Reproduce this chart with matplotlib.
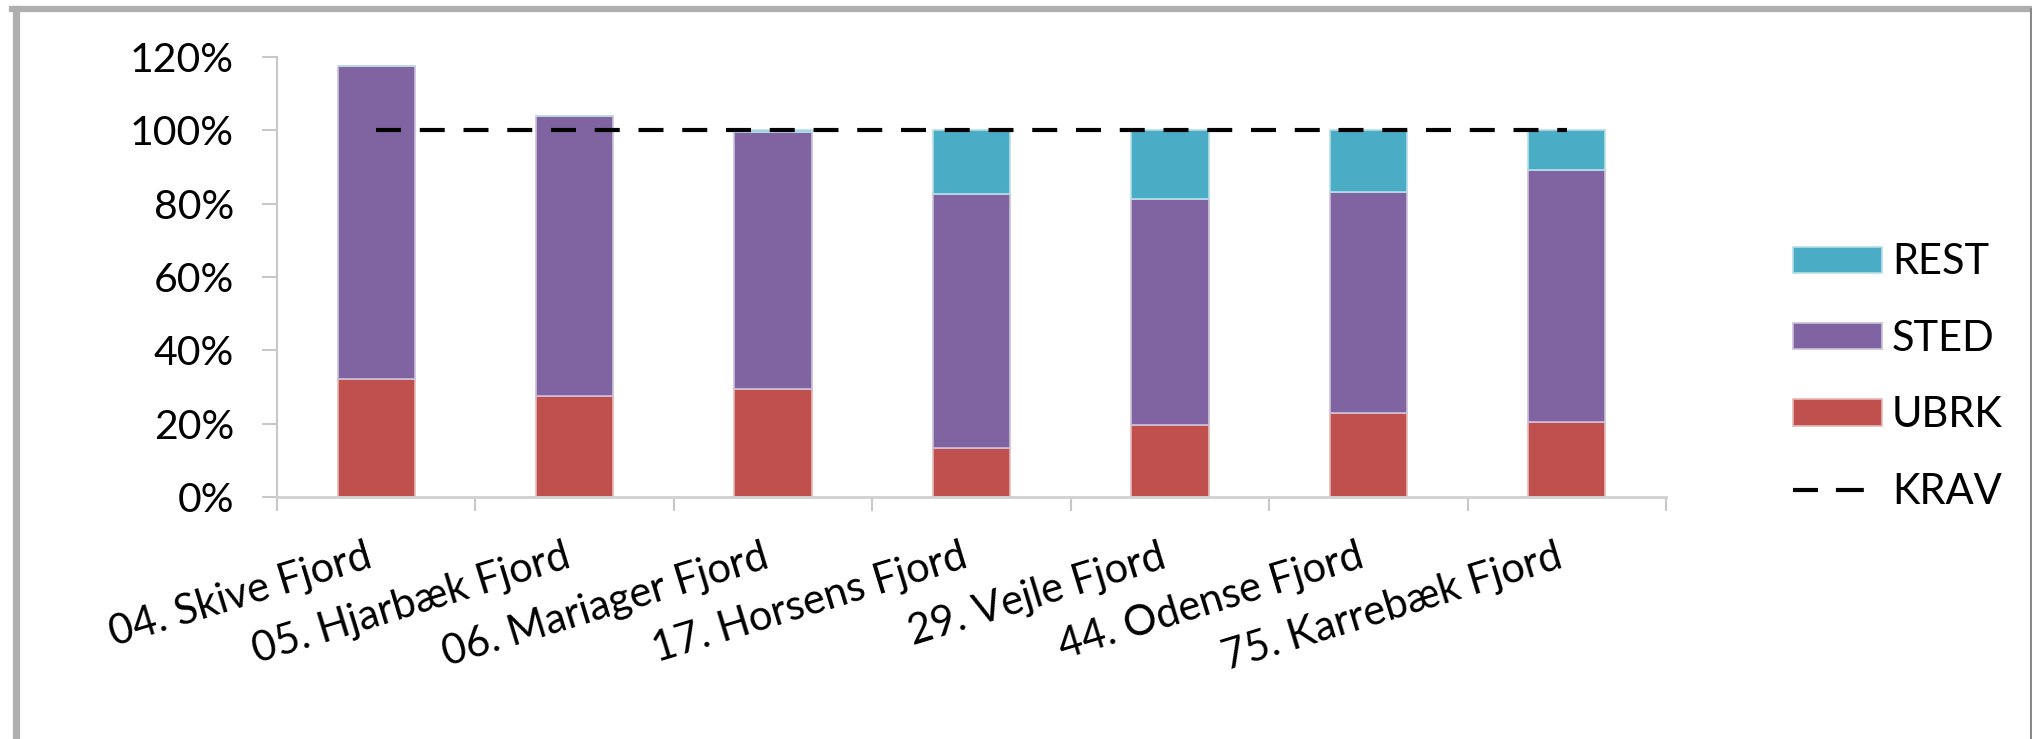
import matplotlib.pyplot as plt
from matplotlib.lines import Line2D
from matplotlib.ticker import PercentFormatter

fjorde = ["04. Skive Fjord", "05. Hjarbæk Fjord", "06. Mariager Fjord",
          "17. Horsens Fjord", "29. Vejle Fjord", "44. Odense Fjord",
          "75. Karrebæk Fjord"]
ubrk = [32.2, 27.5, 29.5, 13.4, 19.6, 22.9, 20.5]
sted = [85.3, 76.4, 70.0, 69.2, 61.7, 60.3, 68.7]
rest = [0.0, 0.0, 0.5, 17.4, 18.7, 16.8, 10.8]
krav = [100, 100, 100, 100, 100, 100, 100]

plt.rcParams['font.family'] = ['Lato', 'DejaVu Sans']

W, H = 2032, 739
fig = plt.figure(figsize=(W / 100, H / 100), dpi=100)
ax = fig.add_axes([277 / W, 1 - 497 / H, (1666 - 277) / W, (497 - 57) / H])

x = list(range(len(fjorde)))
bw = 0.39
b1 = ax.bar(x, ubrk, bw, color="#C0504D", edgecolor="#E6B9B8", linewidth=1.2, label="UBRK", zorder=2)
b2 = ax.bar(x, sted, bw, bottom=ubrk, color="#8064A2", edgecolor="#CCC1DA", linewidth=1.2, label="STED", zorder=2)
bottom2 = [u + s for u, s in zip(ubrk, sted)]
b3 = ax.bar(x, rest, bw, bottom=bottom2, color="#4BACC6", edgecolor="#B7DEE8", linewidth=1.2, label="REST", zorder=2)
ax.plot(x, krav, color="black", linewidth=3, dashes=(6, 4.5), label="KRAV", zorder=3)

ax.set_xlim(-0.5, len(fjorde) - 0.5)
ax.set_ylim(0, 120)
ax.set_yticks(range(0, 121, 20))
ax.yaxis.set_major_formatter(PercentFormatter(decimals=0))

ax.set_xticks([i - 0.5 for i in range(len(fjorde) + 1)])
ax.set_xticklabels([])
ax.set_xticks(x, minor=True)
ax.set_xticklabels(fjorde, minor=True, rotation=17, ha="right", va="top",
                   fontsize=30)
ax.tick_params(axis="x", which="minor", length=0, pad=29)
ax.tick_params(axis="x", which="major", length=10, width=1.5, color="#C8C8C8")
ax.tick_params(axis="y", length=11, width=1.5, color="#C8C8C8", labelsize=29.5, pad=20)

for s in ["top", "right"]:
    ax.spines[s].set_visible(False)
ax.spines["left"].set_color("#C8C8C8")
ax.spines["bottom"].set_color("#D0D0D0")
ax.spines["left"].set_linewidth(1.5)
ax.spines["bottom"].set_linewidth(2)

# legend proxy for the dashed line: two dashes, like Excel draws it
krav_handle = Line2D([], [], color="black", linewidth=3, dashes=(6, 4.3, 6.7, 30))
fig.legend([b3, b2, b1, krav_handle], ["REST", "STED", "UBRK", "KRAV"],
           loc="center left", bbox_to_anchor=(1793 / W, 1 - 377 / H),
           frameon=False, fontsize=30, borderpad=0, borderaxespad=0,
           handlelength=2.13, handleheight=0.6, handletextpad=0.24,
           labelspacing=0.92)

# outer frame like the original image
fig.add_artist(Line2D([15.5 / W, 15.5 / W], [0, 1 - 9 / H], color="#AFAFAF", linewidth=5.2))
fig.add_artist(Line2D([12 / W, 2030 / W], [1 - 9 / H, 1 - 9 / H], color="#AFAFAF", linewidth=4.5))
fig.add_artist(Line2D([2030.5 / W, 2030.5 / W], [0, 1 - 9 / H], color="#888888", linewidth=1.5))

fig.savefig("out.png", dpi=100)
